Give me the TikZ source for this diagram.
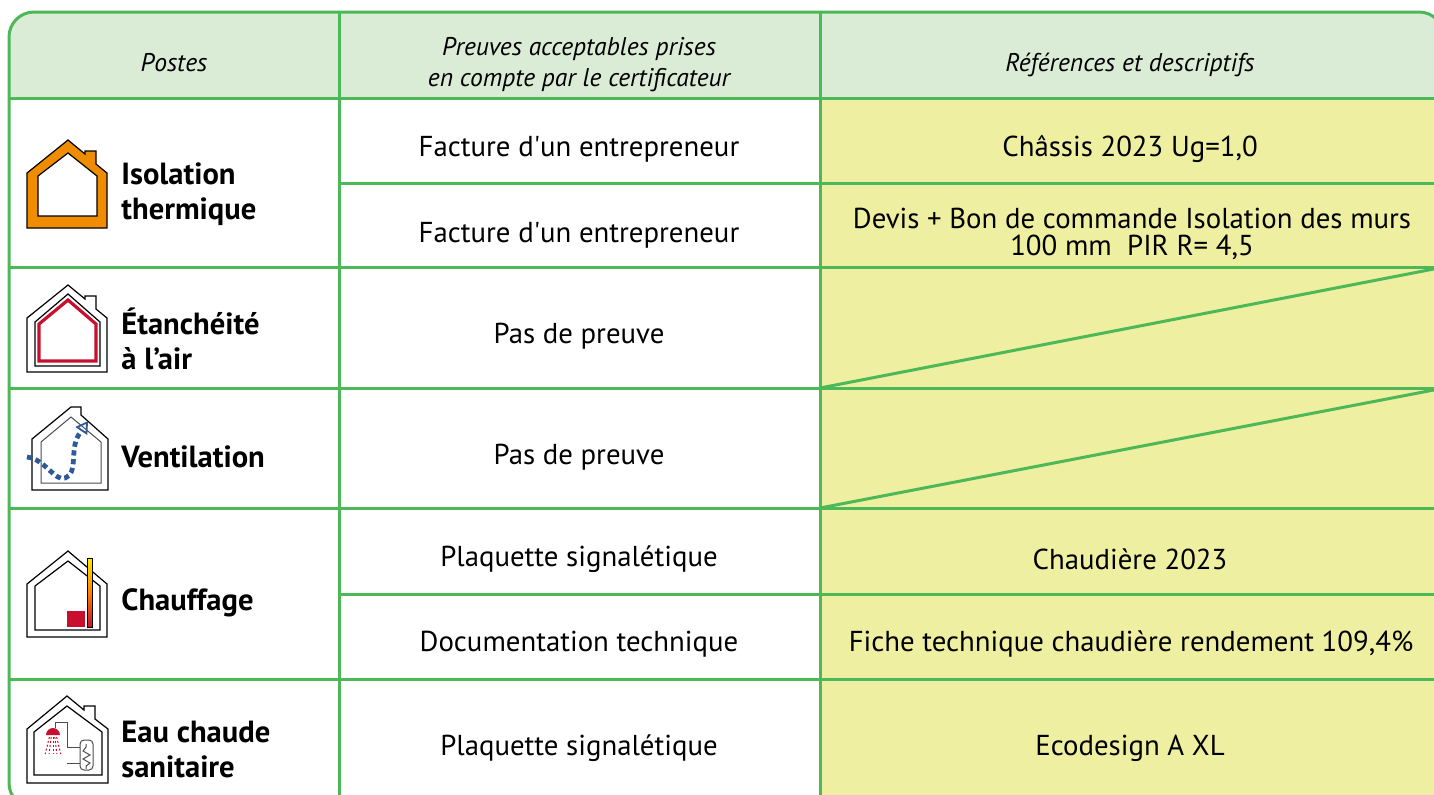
\documentclass[tikz,border=0pt]{standalone}
\usepackage{fontspec}
\setmainfont{PT Sans}
\usetikzlibrary{arrows.meta}
\definecolor{tabgreen}{HTML}{4CB857}
\definecolor{headfill}{HTML}{DAEBD6}
\definecolor{cellfill}{HTML}{EFEFA1}
\definecolor{insul}{HTML}{F08C00}
\definecolor{seal}{HTML}{C8102E}
\definecolor{vent}{HTML}{2E5A97}

\begin{document}
\begin{tikzpicture}[
			x=0.5pt, y=-0.5pt,
			tabline/.style={draw=tabgreen,line width=1.5pt},
			head/.style={font=\fontsize{12.8}{15.5}\selectfont\itshape,align=center},
			cell/.style={font=\fontsize{14.4}{13.5}\selectfont,align=center},
			poste/.style={font=\fontsize{15.3}{17.5}\selectfont\bfseries,align=left,
				anchor=west,inner sep=0pt},
			house/.style={draw=black,line width=0.6pt,line join=miter},
			thinhouse/.style={draw=black!70,line width=0.5pt}
			]
			\useasboundingbox (0,0) rectangle (1434,794);
			\clip (0,0) rectangle (1434,794);
			\begin{scope}
				\clip[rounded corners=12.5pt] (9,12) rectangle (1444,808);
				\fill[headfill] (9,12) rectangle (1444,98);
				\fill[cellfill] (820,98) rectangle (1444,808);
			\end{scope}
			\draw[tabline] (339,12) -- (339,808) (820,12) -- (820,808);
			\draw[tabline] (9,98) -- (1444,98) (339,183) -- (1444,183)
				(9,267) -- (1444,267) (9,388) -- (1444,388) (9,508) -- (1444,508)
				(339,594) -- (1444,594) (9,679) -- (1444,679);
			\draw[tabline] (820,388) -- (1444,267) (820,508) -- (1444,388);
			\draw[tabline,rounded corners=12.5pt] (9,12) rectangle (1444,808);

			\node[head] (hposte) at (174,63) {Postes};
			\node[head] (hpreuve) at (579,65) {Preuves acceptables prises\\en compte par le certificateur};
			\node[head] (href) at (1130,65) {Références et descriptifs};

			\node[cell] (preuve1) at (579,149) {Facture d\textquotesingle un entrepreneur};
			\node[cell] (preuve2) at (579,235) {Facture d\textquotesingle un entrepreneur};
			\node[cell] (preuve3) at (579,336) {Pas de preuve};
			\node[cell] (preuve4) at (579,457) {Pas de preuve};
			\node[cell] (preuve5) at (579,559) {Plaquette signalétique};
			\node[cell] (preuve6) at (579,644) {Documentation technique};
			\node[cell] (preuve7) at (579,748) {Plaquette signalétique};

			\node[cell] (ref1) at (1130,149) {Châssis 2023 Ug=1,0};
			\node[cell] (ref2) at (1132,234) {Devis + Bon de commande Isolation des murs\\100 mm\ \ PIR R= 4,5};
			\node[cell] (ref5) at (1130,559) {Chaudière 2023};
			\node[cell] (ref6) at (1131,644) {Fiche technique chaudière rendement 109,4\%};
			\node[cell] (ref7) at (1130,748) {Ecodesign A XL};

			\node[poste] (isol) at (121,194) {Isolation\\thermique};
			\node[poste] (etanch) at (121,339) {Étanchéité\\à l’air};
			\node[poste] (ventil) at (121,457) {Ventilation};
			\node[poste] (chauf) at (121,603) {Chauffage};
			\node[poste] (ecs) at (121,749) {Eau chaude\\sanitaire};

			\draw[house,fill=insul,even odd rule] (27,228) -- (27,173) -- (68,140) -- (85,154)
				-- (85,151) -- (96,151) -- (96,164) -- (107,173) -- (107,228) -- cycle
				(38,216) -- (38,176) -- (68,153) -- (97,176) -- (97,216) -- cycle;

			\draw[house] (27,372) -- (27,318) -- (68,285) -- (85,299) -- (85,296)
				-- (96,296) -- (96,309) -- (107,318) -- (107,372) -- cycle;
			\draw[house] (35,366) -- (35,322) -- (68,294) -- (100,322) -- (100,366) -- cycle;
			\draw[seal,line width=1.6pt] (39,361) -- (39,324) -- (68,300) -- (96,324) -- (96,361) -- cycle;

			\draw[house] (32,490) -- (32,439) -- (71,407) -- (81,407) -- (81,415)
				-- (108,439) -- (108,490) -- cycle;
			\draw[thinhouse] (41,483) -- (41,442) -- (71,417) -- (101,442) -- (101,483) -- cycle;
			\draw[vent,line width=2.4pt,dash pattern=on 2.6pt off 1.8pt,
				-{Triangle[open,length=6pt,width=7pt,line width=0.9pt]}]
				(27,457) .. controls (45,459) and (55,482) .. (65,478)
				.. controls (78,474) and (70,450) .. (78,436) -- (88,421);

			\draw[house] (27,637) -- (27,584) -- (68,551) -- (107,584) -- (107,637) -- cycle;
			\draw[house] (35,630) -- (35,586) -- (68,561) -- (100,586) -- (100,630) -- cycle;
			\fill[seal] (67,611) rectangle (85,627);
			\shadedraw[top color=yellow!85!orange,bottom color=seal,middle color=orange,
				draw=black,line width=0.3pt] (87,558) rectangle (92,627);

			\draw[house] (27,783) -- (27,729) -- (67,696) -- (84,710) -- (84,706)
				-- (95,706) -- (95,719) -- (108,729) -- (108,783) -- cycle;
			\draw[house] (34,775) -- (34,732) -- (67,706) -- (102,732) -- (102,775) -- cycle;
			\draw[thinhouse] (55,728) -- (55,722) -- (67,722) -- (67,747) -- (80,747)
				(67,763) -- (80,763);
			\draw[thinhouse,rounded corners=2pt] (80,740) rectangle (93,770);
			\draw[thinhouse] (86,744) -- (86,747) -- (83,751) -- (90,755) -- (83,759)
				-- (90,763) -- (86,766) -- (86,769);
			\fill[seal] (46,735) arc (180:360:7) -- cycle;
			\foreach \dx in {-6,-3,0,3,6}
				\draw[seal,line width=0.5pt,dash pattern=on 1pt off 1pt]
					(53+\dx*0.6,737) -- (53+\dx*1.3,754);
		\end{tikzpicture}
\end{document}
